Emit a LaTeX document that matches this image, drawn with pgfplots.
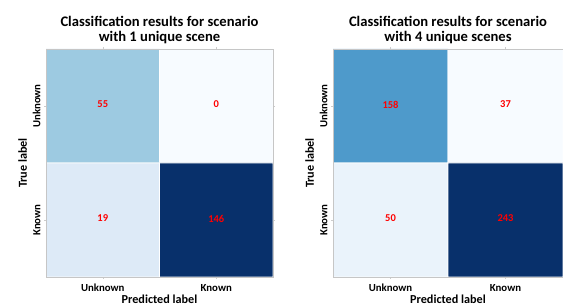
\documentclass[border=0pt]{standalone}
\usepackage{pgfplots}
\pgfplotsset{compat=1.18}
\usepackage{fontspec}
\setmainfont{Carlito}
\pgfplotsset{
  colormap={myblues}{rgb255=(247,251,255) rgb255=(222,235,247) rgb255=(198,219,239) rgb255=(158,202,225) rgb255=(107,174,214) rgb255=(66,146,198) rgb255=(33,113,181) rgb255=(8,81,156) rgb255=(8,48,107)},
  cmstyle/.style={
    scale only axis,
    anchor=south west,
    colormap name=myblues,
    xmin=-0.5, xmax=1.5, ymin=-0.5, ymax=1.5,
    y dir=reverse,
    xtick={0,1}, ytick={0,1},
    xticklabels={Unknown,Known}, yticklabels={Unknown,Known},
    yticklabel style={rotate=90, anchor=south, font=\fontsize{10.8}{11}\selectfont\bfseries},
    xticklabel style={font=\fontsize{10.8}{11}\selectfont\bfseries, yshift=-1.5pt},
    tick align=outside, major tick length=2pt,
    tick style={gray!40, line width=0.4pt},
    axis line style={gray!45, line width=0.6pt},
    xlabel={Predicted label}, ylabel={True label},
    label style={font=\fontsize{12.2}{13}\selectfont\bfseries},
    xlabel style={yshift=3.5pt},
    ylabel style={yshift=-1pt},
    title style={font=\fontsize{14.6}{15}\selectfont\bfseries, align=center, yshift=-4pt},
    axis on top,
  }
}
\begin{document}
\begin{tikzpicture}[x=1pt,y=1pt]
\path[use as bounding box] (0,0) rectangle (563,307);
\begin{axis}[cmstyle, at={(46pt,30pt)}, width=227pt, height=228pt,
  point meta min=0, point meta max=146,
  title={Classification results for scenario\\with 1 unique scene}]
\addplot[matrix plot*, mesh/cols=2, point meta=explicit, draw=white, line width=0.8pt] table[meta=c] {
x y c
0 0 55
1 0 0
0 1 19
1 1 146
};
\addplot[draw=none, mark=none, point meta=explicit symbolic, nodes near coords,
  nodes near coords style={anchor=center, text=red, font=\fontsize{10.5}{11}\selectfont\bfseries, yshift=1.5pt}] table[meta=c] {
x y c
0 0 55
1 0 0
0 1 19
1 1 146
};
\end{axis}
\begin{axis}[cmstyle, at={(333pt,30pt)}, width=230pt, height=228pt,
  point meta min=37, point meta max=243,
  title={Classification results for scenario\\with 4 unique scenes}]
\addplot[matrix plot*, mesh/cols=2, point meta=explicit, draw=white, line width=0.8pt] table[meta=c] {
x y c
0 0 158
1 0 37
0 1 50
1 1 243
};
\addplot[draw=none, mark=none, point meta=explicit symbolic, nodes near coords,
  nodes near coords style={anchor=center, text=red, font=\fontsize{10.5}{11}\selectfont\bfseries, yshift=1.5pt}] table[meta=c] {
x y c
0 0 158
1 0 37
0 1 50
1 1 243
};
\end{axis}
\end{tikzpicture}
\end{document}
